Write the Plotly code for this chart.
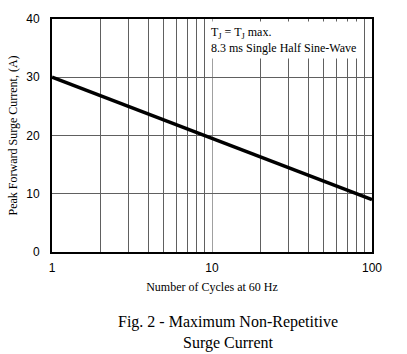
import plotly.graph_objects as go

# Data
cycles = [1, 10, 100]
surge_current = [30, 19.5, 9]

x_major = [1, 10, 100]
x_major_labels = ["1", "10", "100"]
x_minor = [2, 3, 4, 5, 6, 7, 8, 9, 20, 30, 40, 50, 60, 70, 80, 90]
y_ticks = [0, 10, 20, 30, 40]

serif = "Liberation Serif, Times New Roman, serif"
sans = "Liberation Sans, Arial, sans-serif"

fig = go.Figure()
fig.add_trace(go.Scatter(x=cycles, y=surge_current, mode="lines",
                         line=dict(color="black", width=3.5), showlegend=False))

fig.update_layout(
    width=407, height=354,
    margin=dict(l=49, r=35, t=15, b=102),
    paper_bgcolor="white", plot_bgcolor="white",
    xaxis=dict(
        type="log", range=[0, 2],
        tickvals=x_major, ticktext=x_major_labels,
        showgrid=True, gridcolor="#a0a0a0", gridwidth=1,
        minor=dict(tickvals=x_minor, showgrid=True, gridcolor="#606060", gridwidth=1, ticks=""),
        showline=True, linecolor="black", linewidth=2, mirror=True,
        ticks="outside", ticklen=4, tickcolor="rgba(0,0,0,0)",
        tickfont=dict(family=sans, size=12, color="black"),
        title=dict(text="Number of Cycles at 60 Hz", font=dict(family=serif, size=12, color="black"), standoff=8),
        zeroline=False,
    ),
    yaxis=dict(
        range=[0, 40], tickvals=y_ticks,
        showgrid=True, gridcolor="#606060", gridwidth=1,
        showline=True, linecolor="black", linewidth=2, mirror=True,
        ticks="outside", ticklen=8, tickcolor="rgba(0,0,0,0)",
        tickfont=dict(family=sans, size=12, color="black"),
        title=dict(text="Peak Forward Surge Current, (A)", font=dict(family=serif, size=12, color="black"), standoff=6),
        zeroline=False,
    ),
    annotations=[
        dict(xref="paper", yref="paper", x=0.485, y=0.993, xanchor="left", yanchor="top",
             text="T<sub>J</sub> = T<sub>J</sub> max.<br>8.3 ms Single Half Sine-Wave",
             showarrow=False, align="left", bgcolor="white", borderpad=3,
             font=dict(family=serif, size=12, color="black")),
        dict(xref="paper", yref="paper", x=0.551, y=-0.255, xanchor="center", yanchor="top",
             text="Fig. 2 - Maximum Non-Repetitive<br>Surge Current",
             showarrow=False, align="center",
             font=dict(family=serif, size=16, color="black")),
    ],
)

fig.write_html("out.html")
